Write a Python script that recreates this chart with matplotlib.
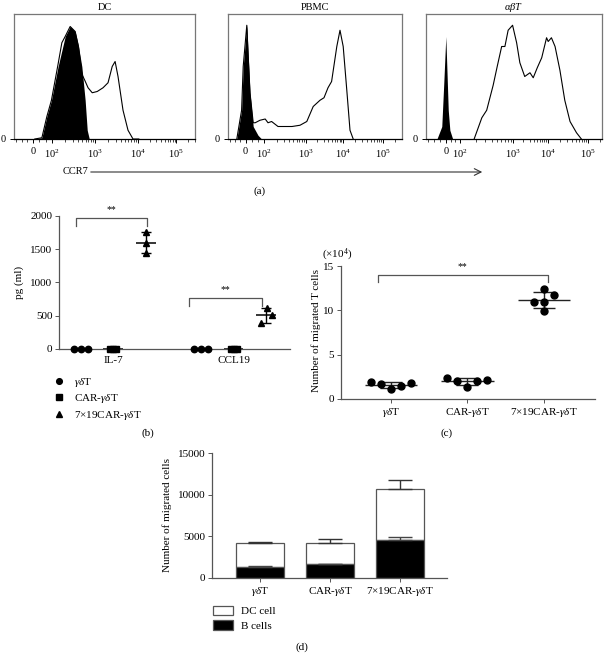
import matplotlib.pyplot as plt
from matplotlib.lines import Line2D
from matplotlib.patches import Patch
import numpy as np

plt.rcParams['font.family'] = 'Liberation Serif'
plt.rcParams['mathtext.fontset'] = 'custom'
plt.rcParams['mathtext.rm'] = 'Liberation Serif'
plt.rcParams['mathtext.it'] = 'Liberation Serif:italic'
plt.rcParams['mathtext.bf'] = 'Liberation Serif:bold'

# ---- (a) CCR7 histograms, x in display units (10^2 -> ~2, 10^3 -> ~3 ...)
hist_titles = ['DC', 'PBMC', r'$\alpha\beta T$']
hist_ticklabels = ['0', '$10^2$', '$10^3$', '$10^4$', '$10^5$']
hist_ticks = [[1.56, 2.01, 3.05, 4.08, 5.0],
              [1.54, 2.0, 3.05, 3.98, 4.98],
              [1.59, 1.94, 3.25, 4.11, 5.1]]

dc_iso_u = [1.6, 1.77, 1.89, 2.0, 2.16, 2.33, 2.45, 2.57, 2.65, 2.73, 2.81, 2.86, 2.91]
dc_iso_h = [0, 0.01, 0.18, 0.31, 0.58, 0.82, 0.90, 0.86, 0.74, 0.58, 0.31, 0.07, 0]
dc_ccr7_u = [1.6, 1.77, 1.89, 2.0, 2.16, 2.25, 2.33, 2.45, 2.57, 2.65, 2.73, 2.8, 2.88, 2.98,
             3.1, 3.24, 3.36, 3.46, 3.53, 3.6, 3.72, 3.84, 3.96, 4.1]
dc_ccr7_h = [0, 0.01, 0.18, 0.31, 0.6, 0.77, 0.82, 0.90, 0.86, 0.74, 0.52, 0.47, 0.41, 0.37,
             0.38, 0.41, 0.45, 0.58, 0.62, 0.50, 0.23, 0.07, 0.0, 0.0]

pbmc_iso_u = [1.32, 1.44, 1.48, 1.57, 1.6, 1.65, 1.73, 1.85, 1.94]
pbmc_iso_h = [0, 0.23, 0.58, 0.91, 0.7, 0.37, 0.10, 0.03, 0]
pbmc_ccr7_u = [1.32, 1.44, 1.48, 1.57, 1.6, 1.65, 1.73, 1.78, 1.9, 2.03, 2.1, 2.19, 2.35, 2.5,
               2.7, 2.9, 3.07, 3.23, 3.4, 3.5, 3.6, 3.69, 3.82, 3.9, 3.98, 4.07, 4.15, 4.23]
pbmc_ccr7_h = [0, 0.23, 0.58, 0.91, 0.7, 0.37, 0.13, 0.13, 0.15, 0.16, 0.13, 0.14, 0.10, 0.10,
               0.10, 0.11, 0.14, 0.26, 0.31, 0.33, 0.41, 0.46, 0.74, 0.87, 0.74, 0.39, 0.07, 0]

abt_iso_u = [1.37, 1.49, 1.54, 1.59, 1.65, 1.69, 1.76]
abt_iso_h = [0, 0.1, 0.45, 0.82, 0.23, 0.07, 0]
abt_ccr7_u = [2.29, 2.48, 2.6, 2.76, 2.86, 2.97, 3.05, 3.13, 3.24, 3.34, 3.42, 3.54, 3.67,
              3.75, 3.85, 3.96, 4.08, 4.12, 4.2, 4.29, 4.41, 4.53, 4.66, 4.82, 4.94]
abt_ccr7_h = [0, 0.17, 0.23, 0.43, 0.58, 0.74, 0.74, 0.87, 0.91, 0.77, 0.61, 0.50, 0.53,
              0.49, 0.57, 0.65, 0.81, 0.78, 0.81, 0.74, 0.55, 0.31, 0.14, 0.05, 0]

# ---- (b) cytokines pg/ml
cytokines = ['IL-7', 'CCL19']
b_groups = ['$\\gamma\\delta$T', 'CAR-$\\gamma\\delta$T', '7×19CAR-$\\gamma\\delta$T']
il7_vals = [[0, 0, 0], [0, 0, 0], [1750, 1595, 1445]]
ccl19_vals = [[0, 0, 0], [0, 0, 0], [611, 505, 395]]

# ---- (c) migrated T cells (x10^4)
c_groups = ['$\\gamma\\delta$T', 'CAR-$\\gamma\\delta$T', '7×19CAR-$\\gamma\\delta$T']
c_gd = [1.95, 1.69, 1.09, 1.47, 1.77]
c_car = [2.33, 2.07, 1.32, 2.03, 2.14]
c_car719 = [12.44, 11.69, 10.94, 10.94, 9.96]

# ---- (d) migrated cells stacked
d_bcells = [1325, 1610, 4540]
d_dc = [2815, 2610, 6110]
d_bcells_err = [75, 40, 400]
d_total_err = [200, 410, 1080]

W, H = 607, 653
fig = plt.figure(figsize=(W / 100, H / 100), dpi=100)
FS = 8
GREY = '#555555'


def box(l, t, r, b):
    return [l / W, 1 - b / H, (r - l) / W, (b - t) / H]


def ftext(x, y, s, **kw):
    kw.setdefault('fontsize', FS)
    kw.setdefault('ha', 'center')
    kw.setdefault('va', 'center')
    fig.text(x / W, 1 - y / H, s, **kw)


def clean(ax):
    for s in ['top', 'right']:
        ax.spines[s].set_visible(False)
    for s in ['left', 'bottom']:
        ax.spines[s].set_color(GREY)
        ax.spines[s].set_linewidth(0.9)
    ax.tick_params(length=3, width=0.7, color=GREY, labelsize=FS, pad=2)


# ================= (a)
hist_boxes = [box(14, 14, 195, 139), box(228, 14, 402, 139), box(426, 14, 602, 139)]
hist_data = [(dc_iso_u, dc_iso_h, dc_ccr7_u, dc_ccr7_h),
             (pbmc_iso_u, pbmc_iso_h, pbmc_ccr7_u, pbmc_ccr7_h),
             (abt_iso_u, abt_iso_h, abt_ccr7_u, abt_ccr7_h)]
for i in range(3):
    ax = fig.add_axes(hist_boxes[i])
    iu, ih, cu, ch = hist_data[i]
    ax.fill_between(iu, ih, color='black', lw=0)
    ax.plot(cu, ch, color='black', lw=0.8)
    ax.set_xlim(1.1, 5.45)
    ax.set_ylim(0, 1)
    t = hist_ticks[i]
    ax.set_xticks(t)
    ax.set_xticklabels(hist_ticklabels)
    minor = list(np.linspace(1.15, t[0], 4)[:-1]) + list(np.linspace(t[0], t[1], 4)[1:-1])
    for k in range(1, 4):
        minor += [t[k] + np.log10(m) * (t[k + 1] - t[k]) for m in range(2, 10)]
    minor += [t[4] + np.log10(m) * (t[4] - t[3]) for m in range(2, 4)]
    ax.set_xticks([m for m in minor if m < 5.45], minor=True)
    ax.set_yticks([0])
    ax.set_yticklabels(['0'])
    for s in ax.spines.values():
        s.set_color('#777777')
        s.set_linewidth(0.9)
    ax.spines['bottom'].set_color('black')
    ax.tick_params(length=3, width=0.7, labelsize=7.5, pad=3)
    ax.tick_params(which='minor', length=1.8, width=0.5)
    ax.set_title(hist_titles[i], fontsize=7.5, pad=3)

ftext(63, 172, 'CCR7', ha='left', fontsize=7.5)
ax_arrow = fig.add_axes([0, 0, 1, 1], facecolor='none')
ax_arrow.set_axis_off()
ax_arrow.annotate('', xy=(485 / W, 1 - 172 / H), xytext=(88 / W, 1 - 172 / H),
                  xycoords='figure fraction', textcoords='figure fraction',
                  arrowprops=dict(arrowstyle='->', lw=0.8, color='#333333',
                                  mutation_scale=12))
ftext(260, 191, '(a)')

# ================= (b)
axb = fig.add_axes(box(59.3, 215.7, 290, 349))
clean(axb)
offs = [-0.27, 0, 0.27]
markers = ['o', 's', '^']
msizes = [4.6, 4.2, 5.0]
jitter = {0: [-0.056, 0, 0.056], 1: [-0.025, 0, 0.025]}
tri_jitter = [[0, 0, 0.005], [0.01, 0.05, -0.04]]
for ci, vals in enumerate([il7_vals, ccl19_vals]):
    for gi in range(3):
        x0 = ci + 1 + offs[gi]
        v = np.array(vals[gi], dtype=float)
        jit = jitter[gi] if gi < 2 else tri_jitter[ci]
        axb.plot(x0 + np.array(jit), v, linestyle='none', marker=markers[gi],
                 ms=msizes[gi], color='black', clip_on=False, zorder=3)
        m = v.mean()
        sd = v.std(ddof=1)
        axb.hlines(m, x0 - 0.083, x0 + 0.083, color='black', lw=1.1, zorder=2)
        axb.errorbar(x0, m, yerr=sd, color='black', lw=1.0, capsize=3.6,
                     capthick=1.0, zorder=2)
axb.set_xlim(0.55, 2.47)
axb.set_ylim(0, 2000)
axb.set_yticks([0, 500, 1000, 1500, 2000])
axb.set_xticks([1, 2])
axb.set_xticklabels(cytokines)
axb.tick_params(axis='x', length=0, pad=5)
# significance brackets
for (xl, xr, yt, yb) in [(0.69, 1.28, 1960, 1845), (1.63, 2.24, 760, 645)]:
    axb.plot([xl, xl, xr, xr], [yb, yt, yt, yb], color=GREY, lw=0.9, clip_on=False)
    axb.text((xl + xr) / 2, yt + 60, '**', ha='center', va='bottom', fontsize=7)
ftext(19, 282, 'pg (ml)', rotation=90)
handles = [Line2D([], [], marker=markers[i], ms=msizes[i] - 0.5, color='black',
                  linestyle='none') for i in range(3)]
fig.legend(handles, b_groups, loc='upper left', bbox_to_anchor=(55 / W, 1 - 376 / H),
           frameon=False, fontsize=FS, handlelength=0.8, handletextpad=0.9,
           labelspacing=0.3, borderpad=0, borderaxespad=0)
ftext(148, 433, '(b)')

# ================= (c)
axc = fig.add_axes(box(340.7, 266, 595, 399))
clean(axc)
c_jitter = [[-0.26, -0.126, 0, 0.134, 0.269],
            [-0.27, -0.135, 0, 0.13, 0.26],
            [0, 0.13, -0.14, 0, 0]]
for gi, vals in enumerate([c_gd, c_car, c_car719]):
    x0 = gi + 1
    v = np.array(vals)
    axc.plot(x0 + np.array(c_jitter[gi]), v, linestyle='none', marker='o', ms=5.0,
             color='black', clip_on=False, zorder=3)
    m = v.mean()
    sd = v.std(ddof=1)
    axc.hlines(m, x0 - 0.34, x0 + 0.34, color='#222222', lw=1.0, zorder=2)
    axc.errorbar(x0, m, yerr=sd, color='#222222', lw=1.0, capsize=7.9,
                 capthick=1.0, zorder=2)
axc.set_xlim(0.35, 3.66)
axc.set_ylim(0, 15)
axc.set_yticks([0, 5, 10, 15])
axc.set_xticks([1, 2, 3])
axc.set_xticklabels(c_groups)
axc.plot([0.83, 0.83, 3.05, 3.05], [13.2, 13.95, 13.95, 13.2], color=GREY, lw=0.9)
axc.text((0.83 + 3.05) / 2, 14.45, '**', ha='center', va='bottom', fontsize=7)
ftext(337, 255, '(×10$^4$)')
ftext(316, 330, 'Number of migrated T cells', rotation=90)
ftext(447, 433, '(c)')

# ================= (d)
axd = fig.add_axes(box(212.3, 453.3, 446.7, 577.7))
clean(axd)
xd = np.arange(1, 4)
bw = 0.69
total = np.array(d_bcells) + np.array(d_dc)
axd.bar(xd, d_dc, bw, bottom=d_bcells, color='white', edgecolor=GREY, lw=0.9,
        label='DC cell')
axd.bar(xd, d_bcells, bw, color='black', edgecolor=GREY, lw=0.9, label='B cells')
axd.errorbar(xd, total, yerr=[np.zeros(3), d_total_err], fmt='none', ecolor='#333333',
             elinewidth=1.0, capsize=8.4, capthick=1.0)
axd.errorbar(xd, d_bcells, yerr=[np.zeros(3), d_bcells_err], fmt='none', ecolor='#444444',
             elinewidth=1.0, capsize=8.4, capthick=1.0)
axd.set_xlim(0.317, 3.67)
axd.set_ylim(0, 15000)
axd.set_yticks([0, 5000, 10000, 15000])
axd.set_xticks(xd)
axd.set_xticklabels(c_groups)
ftext(167, 515, 'Number of migrated cells', rotation=90)
fig.legend(handles=[Patch(facecolor='white', edgecolor=GREY, lw=0.9, label='DC cell'),
                    Patch(facecolor='black', edgecolor=GREY, lw=0.9, label='B cells')],
           loc='upper left', bbox_to_anchor=(213 / W, 1 - 606 / H), frameon=False,
           fontsize=FS, handlelength=1.8, handleheight=0.9, handletextpad=0.7,
           labelspacing=0.35, borderpad=0, borderaxespad=0)
ftext(302, 647, '(d)')

fig.savefig('out.png', dpi=100)
